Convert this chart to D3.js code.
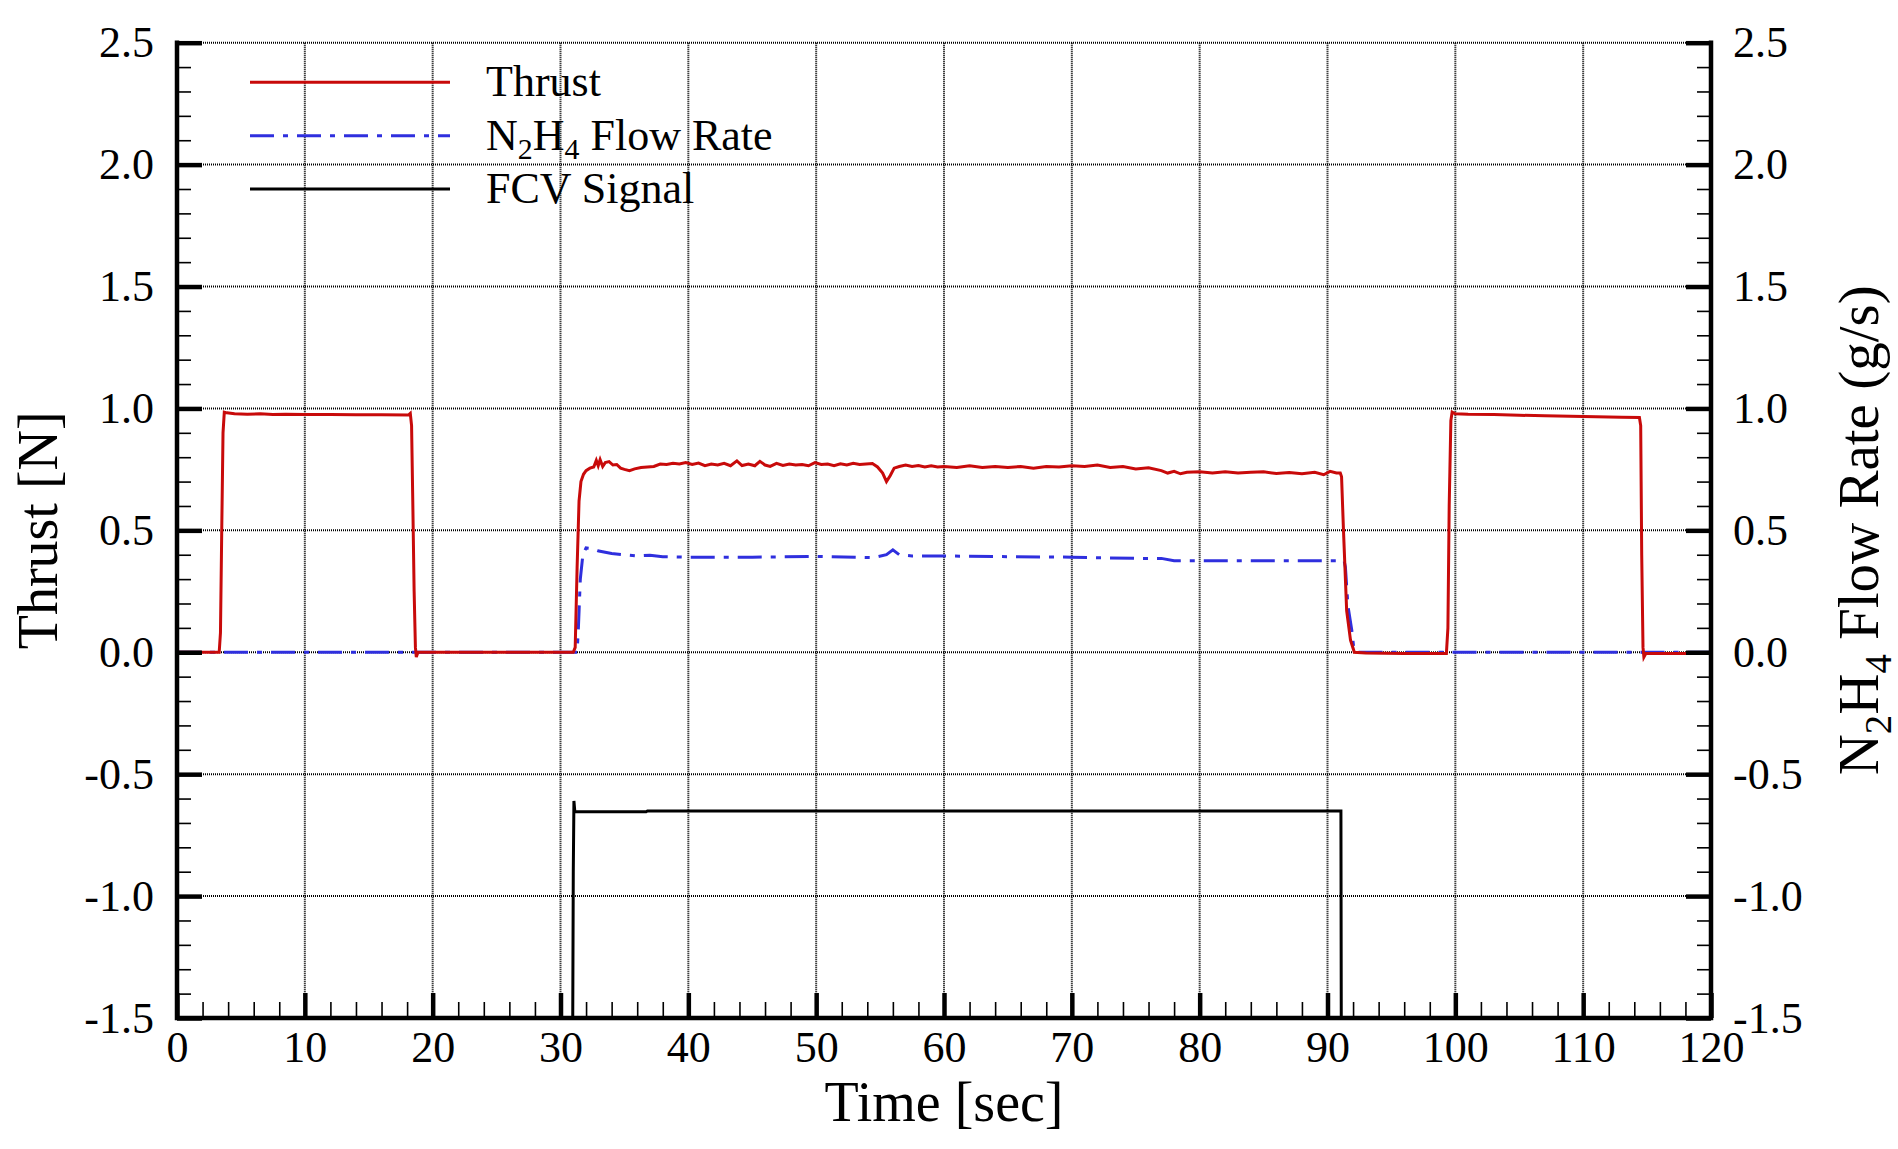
<!DOCTYPE html>
<html>
<head>
<meta charset="utf-8">
<script src="https://cdn.jsdelivr.net/npm/d3@7"></script>
<style>
  body { margin: 0; background: #fff; }
  svg text { font-family: "Liberation Serif", "Times New Roman", serif; fill: #000; }
</style>
</head>
<body>
<svg id="chart" width="1898" height="1149"></svg>
<script>
// time [sec], thrust [N]
const thrust = [
  [0, 0.0], [3.3, 0.0], [3.4, 0.08], [3.5, 0.5], [3.6, 0.9], [3.7, 0.985], [3.9, 0.982],
  [4.5, 0.978], [5.5, 0.976], [6.5, 0.978], [7.5, 0.975], [8.5, 0.976], [10, 0.975],
  [12, 0.975], [14, 0.974], [16, 0.974], [18.1, 0.973], [18.25, 0.98], [18.35, 0.93],
  [18.45, 0.6], [18.55, 0.25], [18.65, 0.02], [18.72, -0.02], [18.85, 0.0],
  [25, 0.0], [31.0, 0.0], [31.15, 0.02], [31.3, 0.35], [31.45, 0.62], [31.6, 0.70],
  [31.8, 0.73], [32.0, 0.745], [32.3, 0.755], [32.6, 0.76], [32.8, 0.787], [32.95, 0.765],
  [33.1, 0.79], [33.3, 0.762], [33.5, 0.778], [33.8, 0.782], [34.1, 0.768], [34.4, 0.77],
  [34.7, 0.755], [35.0, 0.75], [35.4, 0.745], [35.8, 0.752], [36.3, 0.758], [36.8, 0.76],
  [37.3, 0.762], [37.8, 0.772], [38.3, 0.77], [38.8, 0.775], [39.3, 0.772], [39.8, 0.778],
  [40.3, 0.77], [40.8, 0.776], [41.3, 0.765], [41.8, 0.772], [42.3, 0.768], [42.8, 0.775],
  [43.3, 0.765], [43.8, 0.785], [44.2, 0.766], [44.7, 0.772], [45.2, 0.765], [45.6, 0.783],
  [46.0, 0.768], [46.4, 0.762], [46.9, 0.775], [47.4, 0.766], [47.9, 0.772], [48.4, 0.768],
  [48.9, 0.77], [49.4, 0.765], [49.9, 0.778], [50.4, 0.77], [50.9, 0.772], [51.4, 0.765],
  [51.9, 0.773], [52.4, 0.768], [52.9, 0.775], [53.4, 0.77], [53.9, 0.772], [54.4, 0.774],
  [54.8, 0.76], [55.2, 0.735], [55.5, 0.70], [55.8, 0.725], [56.1, 0.755], [56.5, 0.762],
  [57.0, 0.768], [57.5, 0.762], [58.0, 0.766], [58.5, 0.76], [59.0, 0.765], [59.5, 0.76],
  [60, 0.762], [61, 0.758], [62, 0.765], [63, 0.758], [64, 0.762], [65, 0.758], [66, 0.762],
  [67, 0.755], [68, 0.762], [69, 0.76], [70, 0.765], [71, 0.762], [72, 0.768], [73, 0.758],
  [74, 0.762], [75, 0.752], [76, 0.757], [77, 0.745], [77.5, 0.735], [78, 0.742], [78.5, 0.732],
  [79, 0.738], [80, 0.74], [81, 0.735], [82, 0.74], [83, 0.735], [84, 0.738], [85, 0.74],
  [86, 0.733], [87, 0.737], [88, 0.732], [89, 0.738], [89.7, 0.728], [90.2, 0.742],
  [90.7, 0.735], [91.0, 0.735], [91.1, 0.72], [91.25, 0.5], [91.5, 0.17], [91.8, 0.05],
  [92.1, 0.0], [93, -0.003], [96, -0.005], [99.3, -0.005], [99.42, 0.1], [99.52, 0.6],
  [99.65, 0.95], [99.75, 0.985], [100, 0.978], [101, 0.976], [103, 0.975], [105, 0.972],
  [107, 0.97], [109, 0.968], [111, 0.966], [113, 0.964], [114.4, 0.963], [114.5, 0.93],
  [114.58, 0.4], [114.68, 0.02], [114.75, -0.02], [114.9, -0.005], [120, -0.005]
];
// time [sec], N2H4 flow rate [g/s]
const flowRate = [
  [0, 0.0], [31.3, 0.0], [31.4, 0.1], [31.55, 0.3], [31.75, 0.4], [32.0, 0.428],
  [32.5, 0.425], [33, 0.415], [34, 0.405], [35, 0.4], [36, 0.395], [37, 0.398], [38, 0.392],
  [40, 0.39], [45, 0.39], [50, 0.393], [54.5, 0.388], [55.5, 0.4], [56.0, 0.42], [56.5, 0.4],
  [57.5, 0.395], [60, 0.395], [65, 0.392], [70, 0.39], [75, 0.385], [77, 0.385], [78, 0.375],
  [85, 0.375], [91.3, 0.375], [91.4, 0.35], [91.6, 0.19], [91.9, 0.09], [92.05, 0.02],
  [92.3, 0.0], [120, 0.0]
];
// time [sec], FCV signal (off state lies below the axis range)
const fcvSignal = [
  [0, -1.6], [30.95, -1.6], [31.0, -0.9], [31.05, -0.61], [31.12, -0.654], [36.7, -0.654],
  [36.8, -0.651], [91.05, -0.651], [91.08, -1.6], [120, -1.6]
];

const xMajor = [0, 10, 20, 30, 40, 50, 60, 70, 80, 90, 100, 110, 120];
const xMinor = [2, 4, 6, 8, 12, 14, 16, 18, 22, 24, 26, 28, 32, 34, 36, 38, 42, 44, 46, 48,
  52, 54, 56, 58, 62, 64, 66, 68, 72, 74, 76, 78, 82, 84, 86, 88, 92, 94, 96, 98,
  102, 104, 106, 108, 112, 114, 116, 118];
const yMajor = [-1.5, -1.0, -0.5, 0.0, 0.5, 1.0, 1.5, 2.0, 2.5];
const yMinor = [-1.4, -1.3, -1.2, -1.1, -0.9, -0.8, -0.7, -0.6, -0.4, -0.3, -0.2, -0.1,
  0.1, 0.2, 0.3, 0.4, 0.6, 0.7, 0.8, 0.9, 1.1, 1.2, 1.3, 1.4, 1.6, 1.7, 1.8, 1.9,
  2.1, 2.2, 2.3, 2.4];

const legendNames = ["Thrust", "N2H4 Flow Rate", "FCV Signal"];
const colors = ["#c80a0a", "#2f2fde", "#000000"];

const margin = {top: 42.7, right: 187, bottom: 131, left: 177};
const W = 1898, H = 1149;
const w = W - margin.left - margin.right;
const h = H - margin.top - margin.bottom;

const svg = d3.select("#chart");
const g = svg.append("g").attr("transform", `translate(${margin.left},${margin.top})`);

const x = d3.scaleLinear().domain([0, 120]).range([0, w]);
const y = d3.scaleLinear().domain([-1.5, 2.5]).range([h, 0]);
const y2 = d3.scaleLinear().domain([-1.5, 2.5]).range([h, 0]);

const fmtY = d => d3.format(".1f")(d).replace("\u2212", "-");

// dotted grid
g.selectAll(".vgrid")
  .data(xMajor.filter(d => d > 0 && d < 120))
  .enter().append("line")
  .attr("x1", d => x(d)).attr("x2", d => x(d))
  .attr("y1", 0).attr("y2", h)
  .attr("stroke", "#000").attr("stroke-width", 2).attr("stroke-dasharray", "1,1");
g.selectAll(".hgrid")
  .data(yMajor.filter(d => d > -1.5))
  .enter().append("line")
  .attr("x1", 0).attr("x2", w)
  .attr("y1", d => y(d)).attr("y2", d => y(d))
  .attr("stroke", "#000").attr("stroke-width", 2).attr("stroke-dasharray", "1,1");

// lines
g.append("clipPath").attr("id", "clip")
  .append("rect").attr("width", w).attr("height", h);

const lineL = d3.line().x(d => x(d[0])).y(d => y(d[1]));
const lineR = d3.line().x(d => x(d[0])).y(d => y2(d[1]));

const plot = g.append("g").attr("clip-path", "url(#clip)");
plot.append("path").datum(fcvSignal)
  .attr("d", lineL).attr("fill", "none").attr("stroke", colors[2]).attr("stroke-width", 3);
plot.append("path").datum(flowRate)
  .attr("d", lineR).attr("fill", "none").attr("stroke", colors[1]).attr("stroke-width", 3)
  .attr("stroke-dasharray", "24,9,5,9");
plot.append("path").datum(thrust)
  .attr("d", lineL).attr("fill", "none").attr("stroke", colors[0]).attr("stroke-width", 3);

// axes
function styleAxis(sel, major) {
  sel.selectAll(".domain").remove();
  sel.selectAll(".tick line").attr("stroke", "#000").attr("stroke-width", major ? 4.5 : 1.6);
  sel.selectAll("text").attr("font-size", 44).attr("font-family", "Liberation Serif, serif");
}

g.append("g").attr("transform", `translate(0,${h})`)
  .call(d3.axisBottom(x).tickValues(xMinor).tickFormat("").tickSizeInner(-16).tickSizeOuter(0))
  .call(s => styleAxis(s, false));
g.append("g").attr("transform", `translate(0,${h})`)
  .call(d3.axisBottom(x).tickValues(xMajor).tickFormat(d3.format("d")).tickSizeInner(-25).tickSizeOuter(0).tickPadding(13))
  .call(s => styleAxis(s, true));

g.append("g")
  .call(d3.axisLeft(y).tickValues(yMinor).tickFormat("").tickSizeInner(-14).tickSizeOuter(0))
  .call(s => styleAxis(s, false));
g.append("g")
  .call(d3.axisLeft(y).tickValues(yMajor).tickFormat(fmtY).tickSizeInner(-25).tickSizeOuter(0).tickPadding(23))
  .call(s => styleAxis(s, true));

g.append("g").attr("transform", `translate(${w},0)`)
  .call(d3.axisRight(y2).tickValues(yMinor).tickFormat("").tickSizeInner(-14).tickSizeOuter(0))
  .call(s => styleAxis(s, false));
g.append("g").attr("transform", `translate(${w},0)`)
  .call(d3.axisRight(y2).tickValues(yMajor).tickFormat(fmtY).tickSizeInner(-25).tickSizeOuter(0).tickPadding(22))
  .call(s => styleAxis(s, true));

// axis frame lines (left, bottom, right)
g.append("path")
  .attr("d", `M0,0V${h}H${w}V0`)
  .attr("fill", "none").attr("stroke", "#000").attr("stroke-width", 4.5)
  .attr("stroke-linecap", "square");

// axis titles
svg.append("text")
  .attr("x", margin.left + w / 2).attr("y", 1121)
  .attr("text-anchor", "middle").attr("font-size", 56)
  .text("Time [sec]");
svg.append("text")
  .attr("transform", `translate(57,${margin.top + h / 2}) rotate(-90)`)
  .attr("text-anchor", "middle").attr("font-size", 56)
  .text("Thrust [N]");

function chemText(sel, str, size) {
  // write digits as subscripts
  const parts = str.split(/(\d)/).filter(s => s.length);
  let sub = false;
  parts.forEach(p => {
    const isDigit = /^\d$/.test(p);
    const t = sel.append("tspan").text(p);
    if (isDigit && !sub) { t.attr("font-size", size * 0.68).attr("dy", size * 0.22); sub = true; }
    else if (!isDigit && sub) { t.attr("dy", -size * 0.22); sub = false; }
  });
}

const rTitle = svg.append("text")
  .attr("transform", `translate(1878,${margin.top + h / 2}) rotate(-90)`)
  .attr("text-anchor", "middle").attr("font-size", 57);
chemText(rTitle, "N2H4 Flow Rate (g/s)", 57);

// legend
const legend = svg.append("g").attr("transform", "translate(250,82.3)");
const rows = legend.selectAll(".row").data(legendNames).enter().append("g")
  .attr("transform", (d, i) => `translate(0,${i * 53.4})`);
rows.append("line")
  .attr("x1", 0).attr("x2", 200).attr("y1", 0).attr("y2", 0)
  .attr("stroke", (d, i) => colors[i]).attr("stroke-width", 3)
  .attr("stroke-dasharray", (d, i) => i === 1 ? "24,9,5,9" : null);
rows.append("text")
  .attr("x", 236).attr("y", 14).attr("font-size", 44)
  .each(function(d) { chemText(d3.select(this), d, 44); });
</script>
</body>
</html>
